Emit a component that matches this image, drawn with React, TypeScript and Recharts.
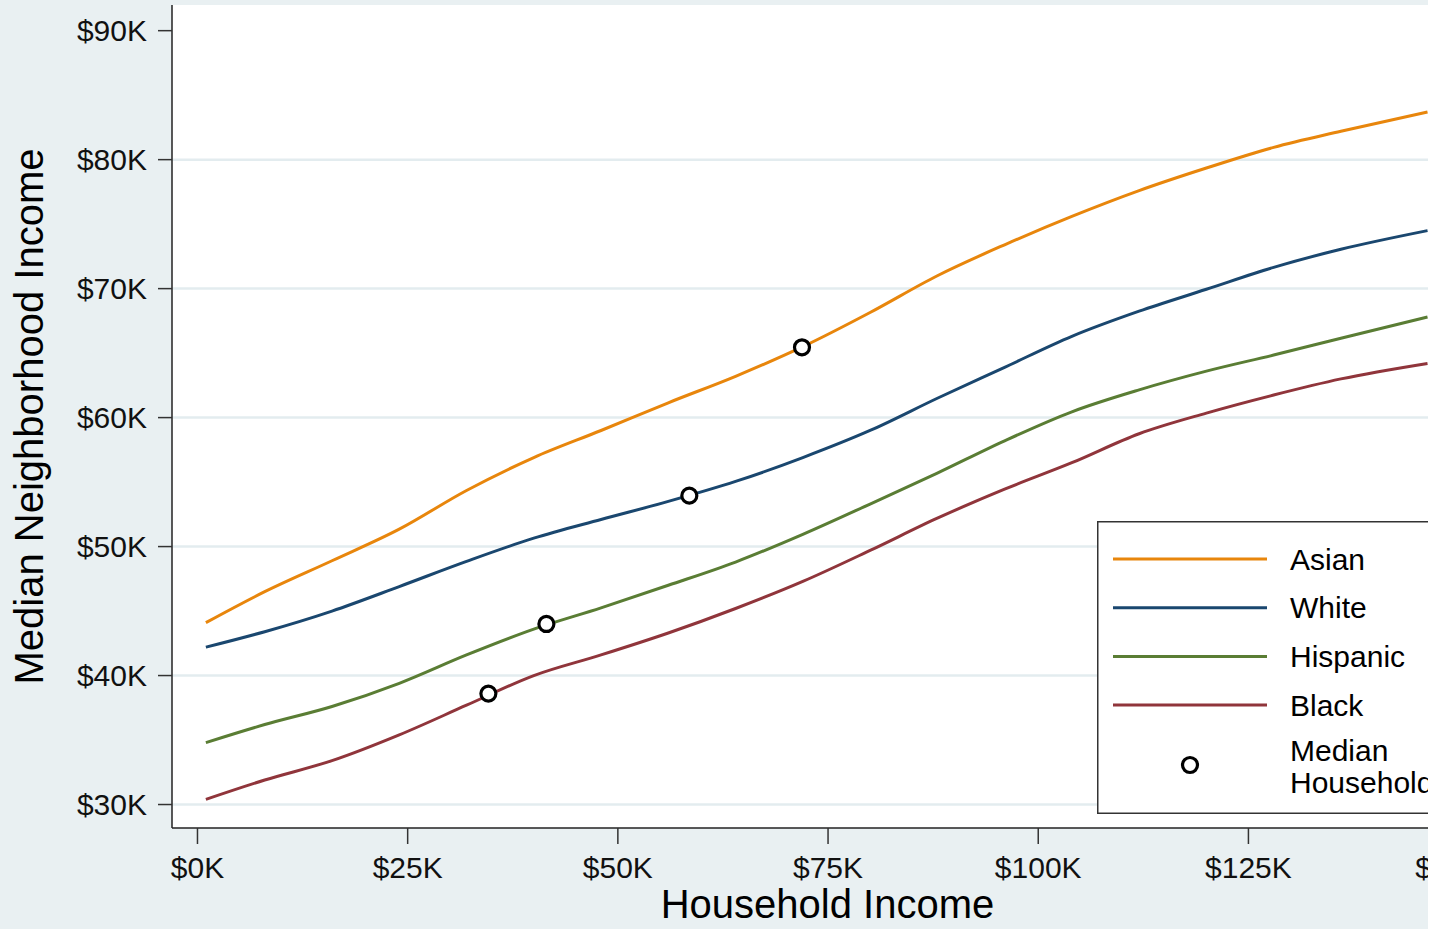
import React from 'react';
import {
  ComposedChart,
  Line,
  Scatter,
  XAxis,
  YAxis,
  CartesianGrid,
  Legend,
} from 'recharts';

// Household income (thousands of $) at which the curves were read
const INCOME_K = [1, 8, 16, 24, 32, 40, 48, 56, 64, 72, 80, 88, 96, 104, 112, 120, 128, 136, 146.3];
// Median neighborhood income (thousands of $) per group
const ASIAN = [44.1, 46.5, 48.9, 51.35, 54.35, 56.9, 59.0, 61.15, 63.2, 65.5, 68.15, 71.0, 73.4, 75.6, 77.6, 79.35, 80.95, 82.2, 83.7];
const WHITE = [42.2, 43.4, 45.0, 46.9, 48.85, 50.65, 52.1, 53.5, 55.05, 56.9, 59.0, 61.5, 63.9, 66.3, 68.25, 69.95, 71.65, 73.05, 74.5];
const HISPANIC = [34.8, 36.2, 37.6, 39.4, 41.6, 43.6, 45.25, 47.0, 48.8, 50.95, 53.3, 55.7, 58.2, 60.45, 62.15, 63.6, 64.85, 66.15, 67.8];
const BLACK = [30.4, 31.9, 33.4, 35.4, 37.7, 40.0, 41.6, 43.3, 45.2, 47.3, 49.7, 52.2, 54.45, 56.5, 58.75, 60.35, 61.75, 63.0, 64.2];

const SERIES_NAMES = ['Asian', 'White', 'Hispanic', 'Black'];
const SERIES_COLORS = ['#e8860c', '#1a476f', '#5a7d34', '#90353b'];
const SERIES_VALUES = [ASIAN, WHITE, HISPANIC, BLACK];

// Median household marker per group (same order as SERIES_NAMES)
const MEDIAN_X = [71.9, 58.5, 41.5, 34.6];
const MEDIAN_Y = [65.45, 53.95, 44.0, 38.6];

const X_TICKS = [0, 25, 50, 75, 100, 125, 150];
const Y_TICKS = [30, 40, 50, 60, 70, 80, 90];
const GRID_VALUES = [30, 40, 50, 60, 70, 80];
const X_DOMAIN: [number, number] = [-3.03, 152.9];
const Y_DOMAIN: [number, number] = [28.18, 91.99];

const FONT = '"Liberation Sans", Arial, Helvetica, sans-serif';
const BG = '#e9f0f2';
const LEGEND_W = 380;
const LEGEND_H = 293;

const seriesData = SERIES_VALUES.map((vals) =>
  INCOME_K.map((x, i) => ({ x, y: vals[i] }))
);
const medianData = MEDIAN_X.map((x, i) => ({ x, y: MEDIAN_Y[i] }));

const fmt = (v: number) => `$${v}K`;

const Marker = (props: any) => {
  const { cx, cy } = props;
  if (cx == null || cy == null) return null;
  return <circle cx={cx} cy={cy} r={7.5} fill="#fff" stroke="#000" strokeWidth={3.2} />;
};

const LegendBox = () => (
  <svg width={LEGEND_W} height={LEGEND_H} style={{ display: 'block' }}>
    <rect
      x={0.75}
      y={0.75}
      width={LEGEND_W - 1.5}
      height={LEGEND_H - 1.5}
      fill="#fff"
      stroke="#333"
      strokeWidth={1.5}
    />
    {SERIES_NAMES.map((name, i) => {
      const cy = 38 + i * 48.7;
      return (
        <g key={name}>
          <line x1={16} x2={170} y1={cy} y2={cy} stroke={SERIES_COLORS[i]} strokeWidth={3} />
          <text x={193} y={cy + 10.7} fontSize={30} fontFamily={FONT} fill="#000">
            {name}
          </text>
        </g>
      );
    })}
    <circle cx={93} cy={244} r={7.5} fill="#fff" stroke="#000" strokeWidth={3.2} />
    <text x={193} y={239.5} fontSize={30} fontFamily={FONT} fill="#000">
      Median
    </text>
    <text x={193} y={271.5} fontSize={30} fontFamily={FONT} fill="#000">
      Household
    </text>
  </svg>
);

export default function App() {
  return (
    <div
      style={{
        position: 'absolute',
        left: 0,
        top: 0,
        width: 1428,
        height: 929,
        overflow: 'hidden',
        background: BG,
      }}
    >
      <ComposedChart width={1490} height={929} margin={{ top: 5, right: 7, bottom: 0, left: 0 }}>
        <CartesianGrid
          vertical={false}
          horizontalValues={GRID_VALUES}
          stroke="#e3ecef"
          strokeWidth={2.5}
          fill="#ffffff"
        />
        <XAxis
          type="number"
          dataKey="x"
          domain={X_DOMAIN}
          ticks={X_TICKS}
          allowDataOverflow
          tickFormatter={fmt}
          height={101}
          tickSize={16}
          tickMargin={13}
          interval={0}
          axisLine={{ stroke: '#222', strokeWidth: 1.5 }}
          tickLine={{ stroke: '#333', strokeWidth: 1.5 }}
          tick={{ fontSize: 30, fill: '#111', fontFamily: FONT }}
          label={{
            value: 'Household Income',
            position: 'insideBottom',
            offset: 11,
            fontSize: 40,
            fill: '#000',
            fontFamily: FONT,
          }}
        />
        <YAxis
          type="number"
          dataKey="y"
          domain={Y_DOMAIN}
          ticks={Y_TICKS}
          allowDataOverflow
          tickFormatter={fmt}
          width={172}
          tickSize={14}
          tickMargin={11}
          interval={0}
          axisLine={{ stroke: '#222', strokeWidth: 1.5 }}
          tickLine={{ stroke: '#333', strokeWidth: 1.5 }}
          tick={{ fontSize: 30, fill: '#111', fontFamily: FONT }}
          label={{
            value: 'Median Neighborhood Income',
            angle: -90,
            position: 'insideLeft',
            offset: 29,
            fontSize: 40,
            fill: '#000',
            fontFamily: FONT,
            style: { textAnchor: 'middle' },
          }}
        />
        {SERIES_NAMES.map((name, i) => (
          <Line
            key={name}
            name={name}
            data={seriesData[i]}
            dataKey="y"
            type="monotone"
            stroke={SERIES_COLORS[i]}
            strokeWidth={3}
            dot={false}
            activeDot={false}
            isAnimationActive={false}
          />
        ))}
        <Scatter
          name="Median Household"
          data={medianData}
          dataKey="y"
          shape={<Marker />}
          isAnimationActive={false}
        />
        <Legend
          layout="vertical"
          align="center"
          verticalAlign="middle"
          content={() => <LegendBox />}
          wrapperStyle={{
            position: 'absolute',
            left: 1097,
            top: 521,
            width: LEGEND_W,
            height: LEGEND_H,
            margin: 0,
            padding: 0,
          }}
        />
      </ComposedChart>
    </div>
  );
}
